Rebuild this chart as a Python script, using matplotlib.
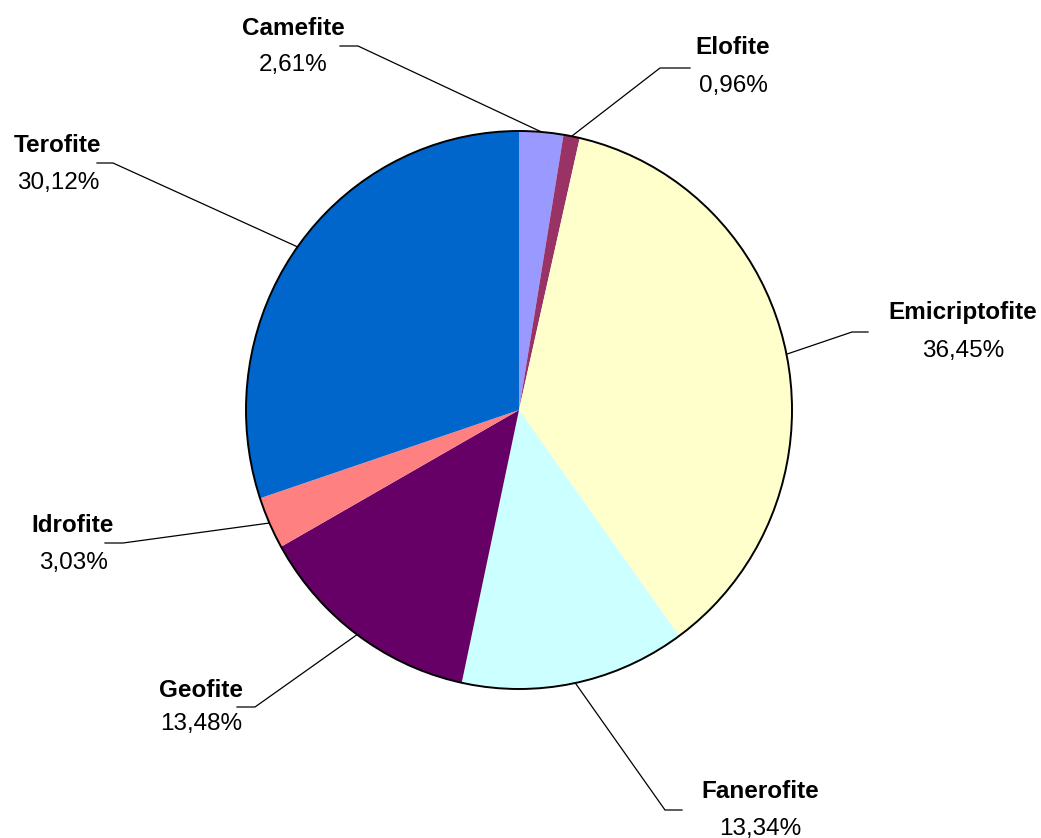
import numpy as np
import matplotlib
matplotlib.use("Agg")
import matplotlib.pyplot as plt
from matplotlib.patches import Circle

# Life-form spectrum (percent of species)
categories = ["Camefite", "Elofite", "Emicriptofite", "Fanerofite", "Geofite", "Idrofite", "Terofite"]
values = [2.61, 0.96, 36.45, 13.34, 13.48, 3.03, 30.12]
colors = ["#9999FF", "#993366", "#FFFFCC", "#CCFFFF", "#660066", "#FF8080", "#0066CC"]

W, H = 1041, 838
CX, CY = 519, 410      # pie centre in pixels
RX, RY = 273, 279      # pie radii in pixels

def px(x, y):
    """Pixel position (origin top-left) -> data coordinates of the pie axes."""
    return ((x - CX) / RX, (CY - y) / RY)

# label layout: (label centre x, name y, value y, elbow point, horizontal end x)
layout = {
    "Camefite":      (293, 28, 65, (358, 46), 340),
    "Elofite":       (733, 47, 86, (660, 68), 690),
    "Emicriptofite": (963, 312, 351, (852, 332), 868),
    "Fanerofite":    (760, 791, 829, (665, 810), 682),
    "Geofite":       (201, 690, 724, (255, 707), 237),
    "Idrofite":      (73, 525, 563, (123, 543), 105),
    "Terofite":      (58, 145, 183, (113, 163), 97),
}

plt.rcParams["font.family"] = ["Liberation Sans", "DejaVu Sans"]

fig = plt.figure(figsize=(W / 100, H / 100), dpi=100)
ax = fig.add_axes([0, 0, 1, 1])

wedges, _ = ax.pie(values, colors=colors, startangle=90, counterclock=False,
                   radius=1.0, center=(0, 0),
                   wedgeprops=dict(linewidth=0, edgecolor="none"))
ax.set_aspect("auto")
ax.set_xlim(-CX / RX, (W - CX) / RX)
ax.set_ylim((CY - H) / RY, CY / RY)
ax.axis("off")

ax.add_patch(Circle((0, 0), 1.0, fill=False, edgecolor="black", linewidth=1.4, zorder=5))

for w, name, v in zip(wedges, categories, values):
    mid = np.deg2rad((w.theta1 + w.theta2) / 2)
    sx, sy = np.cos(mid), np.sin(mid)
    lx, ny, vy, elbow, hx = layout[name]
    ex, ey = px(*elbow)
    hx_d, _ = px(hx, elbow[1])
    ax.plot([sx, ex, hx_d], [sy, ey, ey], color="black", linewidth=0.9,
            solid_joinstyle="miter", zorder=6)
    tx, ty = px(lx, ny)
    ax.text(tx, ty, name, ha="center", va="center", fontsize=17.5,
            fontweight="bold", color="black")
    tx, ty = px(lx, vy)
    ax.text(tx, ty, f"{v:.2f}".replace(".", ",") + "%", ha="center", va="center",
            fontsize=17.5, color="black")

fig.savefig("out.png", dpi=100, facecolor="white")
